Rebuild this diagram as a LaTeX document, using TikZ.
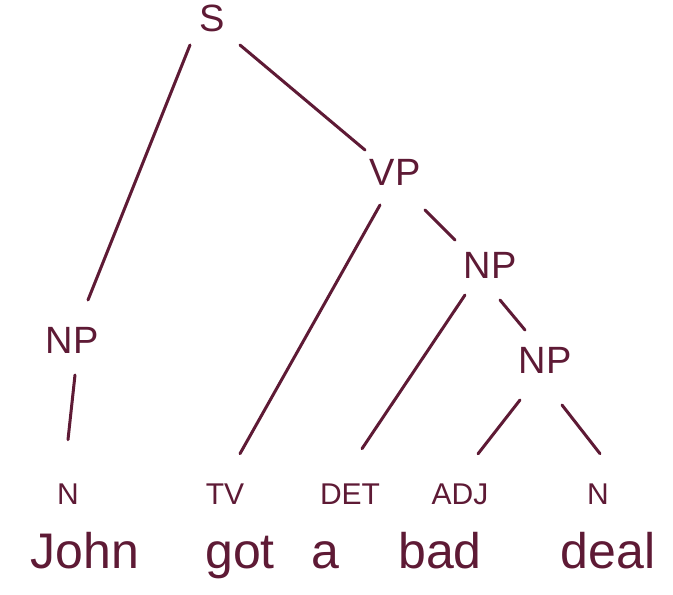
\documentclass[tikz,border=0pt]{standalone}
\usepackage{fontspec}
\setmainfont{Liberation Sans}
\usetikzlibrary{calc}
\definecolor{ink}{HTML}{5E1A35}
\begin{document}
\begin{tikzpicture}[x=1pt,y=-1pt,
  catlabel/.style={inner sep=0pt,text=ink,font=\fontsize{38}{40}\selectfont},
  poslabel/.style={inner sep=0pt,text=ink,anchor=base,font=\fontsize{30}{32}\selectfont},
  wordlabel/.style={inner sep=0pt,text=ink,anchor=base,font=\fontsize{50}{52}\selectfont},
  edge/.style={draw=ink,line width=3pt,line cap=round}]
\fill[white] (0,0) rectangle (673,595);
\useasboundingbox (0,0) rectangle (673,595);
% phrase nodes
\node[catlabel] (S) at (212,18) {S};
\node[catlabel] (VP) at (395,172) {VP};
\node[catlabel] (NPa) at (72,340) {NP};
\node[catlabel] (NPb) at (490,265) {NP};
\node[catlabel] (NPc) at (545,360) {NP};
% part of speech
\node[poslabel] (Na) at (68,504) {N};
\node[poslabel] (TV) at (225,504) {TV};
\node[poslabel] (DET) at (350,504) {DET};
\node[poslabel] (ADJ) at (460,504) {ADJ};
\node[poslabel] (Nb) at (598,504) {N};
% words
\node[wordlabel] (john) at (85,568) {John};
\node[wordlabel] (got) at (240,568) {got};
\node[wordlabel] (a) at (325,568) {a};
\node[wordlabel] (bad) at (440,568) {bad};
\node[wordlabel] (deal) at (608,568) {deal};
% edges
\draw[edge] ($(S)+(-22,27)$) -- ($(NPa)+(16,-40)$);
\draw[edge] ($(S)+(28,27)$) -- ($(VP)+(-30,-22)$);
\draw[edge] ($(NPa)+(3,35)$) -- ($(Na)+(0,-54)$);
\draw[edge] ($(VP)+(-15,33)$) -- ($(TV)+(15,-40)$);
\draw[edge] ($(VP)+(30,38)$) -- ($(NPb)+(-35,-25)$);
\draw[edge] ($(NPb)+(-25,30)$) -- ($(DET)+(12,-45)$);
\draw[edge] ($(NPb)+(10,35)$) -- ($(NPc)+(-20,-30)$);
\draw[edge] ($(NPc)+(-25,40)$) -- ($(ADJ)+(18,-40)$);
\draw[edge] ($(NPc)+(17,45)$) -- ($(Nb)+(2,-40)$);
\end{tikzpicture}
\end{document}
